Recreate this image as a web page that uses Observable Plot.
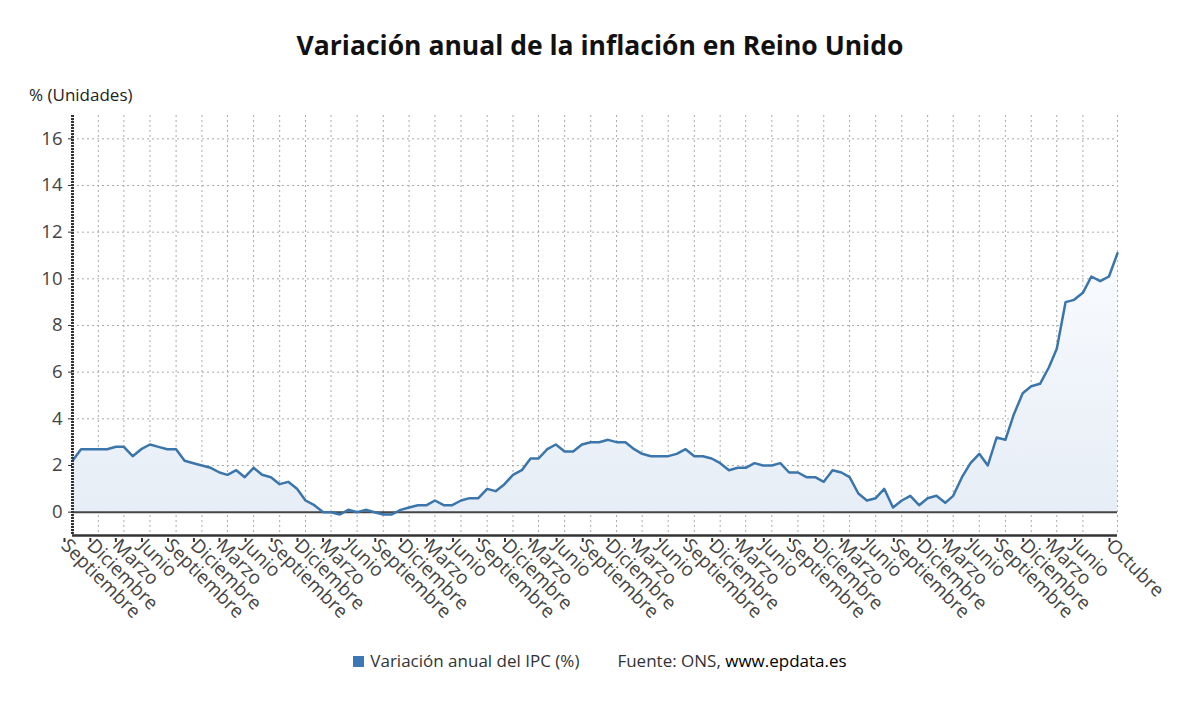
<!DOCTYPE html>
<html>
<head>
<meta charset="utf-8">
<script src="https://cdn.jsdelivr.net/npm/d3@7"></script>
<script src="https://cdn.jsdelivr.net/npm/@observablehq/plot@0.6"></script>
<style>
  html, body { margin: 0; padding: 0; background: #fff; }
  body { width: 1200px; height: 705px; position: relative; overflow: hidden; font-family: "Open Sans", "Noto Sans", sans-serif; }
  #title { position: absolute; top: 27px; left: 0; width: 1200px; text-align: center; font-size: 26.5px; font-weight: 700; color: #111; }
  #unit { position: absolute; top: 83px; left: 29px; font-size: 17px; color: #222; }
  #chart { position: absolute; top: 100px; left: 0; }
  #legend { position: absolute; top: 649px; left: 0; width: 1200px; text-align: center; font-size: 17px; color: #333; }
  #legend .sw { display: inline-block; width: 11px; height: 11px; background: #3b78b4; margin-right: 6px; vertical-align: 0px; }
  #legend .src { margin-left: 38px; }
  #legend b { font-weight: 400; color: #000; }
</style>
</head>
<body>
<div id="title">Variación anual de la inflación en Reino Unido</div>
<div id="unit">% (Unidades)</div>
<div id="chart"></div>
<div id="legend"><span class="sw"></span>Variación anual del IPC (%)<span class="src">Fuente: ONS, <b>www.epdata.es</b></span></div>
<script>
// Monthly CPI annual rate, UK, September 2012 .. October 2022
const startMonth = "2012-09-01";
const ipc = [
  2.2, 2.7, 2.7, 2.7,                                      // 2012 Sep-Dec
  2.7, 2.8, 2.8, 2.4, 2.7, 2.9, 2.8, 2.7, 2.7, 2.2, 2.1, 2.0, // 2013
  1.9, 1.7, 1.6, 1.8, 1.5, 1.9, 1.6, 1.5, 1.2, 1.3, 1.0, 0.5, // 2014
  0.3, 0.0, 0.0, -0.1, 0.1, 0.0, 0.1, 0.0, -0.1, -0.1, 0.1, 0.2, // 2015
  0.3, 0.3, 0.5, 0.3, 0.3, 0.5, 0.6, 0.6, 1.0, 0.9, 1.2, 1.6, // 2016
  1.8, 2.3, 2.3, 2.7, 2.9, 2.6, 2.6, 2.9, 3.0, 3.0, 3.1, 3.0, // 2017
  3.0, 2.7, 2.5, 2.4, 2.4, 2.4, 2.5, 2.7, 2.4, 2.4, 2.3, 2.1, // 2018
  1.8, 1.9, 1.9, 2.1, 2.0, 2.0, 2.1, 1.7, 1.7, 1.5, 1.5, 1.3, // 2019
  1.8, 1.7, 1.5, 0.8, 0.5, 0.6, 1.0, 0.2, 0.5, 0.7, 0.3, 0.6, // 2020
  0.7, 0.4, 0.7, 1.5, 2.1, 2.5, 2.0, 3.2, 3.1, 4.2, 5.1, 5.4, // 2021
  5.5, 6.2, 7.0, 9.0, 9.1, 9.4, 10.1, 9.9, 10.1, 11.1         // 2022 Jan-Oct
];
const monthNames = ["Enero","Febrero","Marzo","Abril","Mayo","Junio","Julio","Agosto","Septiembre","Octubre","Noviembre","Diciembre"];
// x tick positions (month offsets from start) – every quarter plus the last month
const tickOffsets = [0,3,6,9,12,15,18,21,24,27,30,33,36,39,42,45,48,51,54,57,60,63,66,69,72,75,78,81,84,87,90,93,96,99,102,105,108,111,114,117,121];
const yTicks = [0, 2, 4, 6, 8, 10, 12, 14, 16];

const start = new Date(startMonth + "T00:00:00Z");
const data = ipc.map((v, i) => ({ date: d3.utcMonth.offset(start, i), value: v }));
const tickDates = tickOffsets.map(o => d3.utcMonth.offset(start, o));

const gradient = () => {
  const svgNS = "http://www.w3.org/2000/svg";
  const defs = document.createElementNS(svgNS, "defs");
  defs.innerHTML = `<linearGradient id="fillgrad" x1="0" y1="0" x2="0" y2="1">
      <stop offset="0" stop-color="#f9fbfe"/>
      <stop offset="1" stop-color="#e6edf6"/>
    </linearGradient>`;
  return defs;
};

const chart = Plot.plot({
  width: 1200,
  height: 540,
  marginLeft: 72,
  marginRight: 83,
  marginTop: 15,
  marginBottom: 105,
  style: { fontFamily: "'Open Sans', 'Noto Sans', sans-serif", fontSize: "18px", color: "#444", background: "transparent" },
  x: { type: "utc", domain: [data[0].date, data[data.length - 1].date], label: null },
  y: { domain: [-1, 17], label: null },
  marks: [
    gradient,
    Plot.gridY(yTicks, { stroke: "#aaa", strokeOpacity: 1, strokeDasharray: "2,3", strokeWidth: 1 }),
    Plot.gridX(tickDates, { stroke: "#aaa", strokeOpacity: 1, strokeDasharray: "2,3", strokeWidth: 1 }),
    Plot.areaY(data, { x: "date", y1: 0, y2: "value", fill: "url(#fillgrad)" }),
    Plot.ruleY([0], { stroke: "#444", strokeWidth: 2 }),
    Plot.lineY(data, { x: "date", y: "value", stroke: "#3a75ab", strokeWidth: 2.5 }),
    Plot.ruleY([-1], { stroke: "#333", strokeWidth: 2.5 }),
    Plot.ruleX([data[0].date], { stroke: "#333", strokeWidth: 3, strokeDasharray: "2,1" }),
    Plot.axisY(yTicks, { tickSize: 4, tickPadding: 6, fontSize: 18.5, fill: "#444", stroke: "#333", label: null }),
    Plot.axisX(tickDates, {
      tickSize: 4, stroke: "#333", strokeWidth: 2,
      tickFormat: d => monthNames[d.getUTCMonth()],
      tickRotate: 45, textAnchor: "start", tickPadding: 0,
      dx: -8, dy: 3,
      fontSize: 19, fill: "#444", label: null
    })
  ]
});
document.getElementById("chart").appendChild(chart);
</script>
</body>
</html>
